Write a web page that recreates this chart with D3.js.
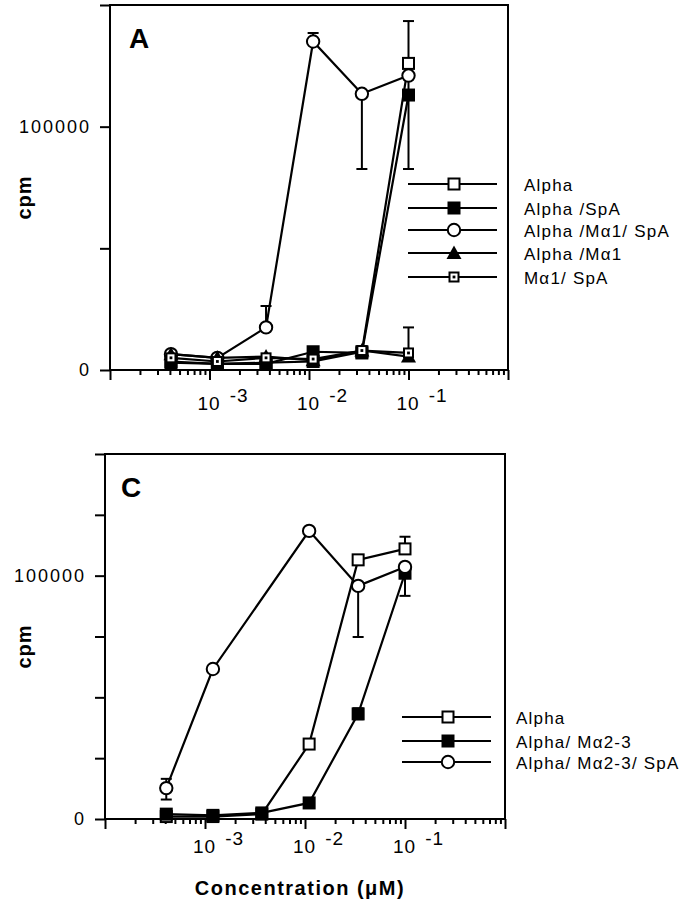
<!DOCTYPE html>
<html>
<head>
<meta charset="utf-8">
<script src="https://cdn.jsdelivr.net/npm/d3@7"></script>
<style>
  body { margin: 0; background: #fff; }
  text { font-family: "Liberation Sans", Arial, Helvetica, sans-serif; fill: #000; }
</style>
</head>
<body>
<svg id="chart" width="689" height="900"></svg>
<script>
// concentrations (uM), 3-fold dilutions
const conc = [0.00041, 0.0012, 0.0037, 0.011, 0.034, 0.1];

// panel A values (cpm)
const alphaA      = [3000, 2500, 3000, 3500, 7500, 126000];
const alphaSpA    = [3500, 2500, 2500, 7500, 7000, 113000];
const alphaMa1SpA = [6500, 5000, 17500, 135000, 113500, 121000];
const alphaMa1    = [6500, 5000, 5500, 4000, 8000, 5500];
const ma1SpA      = [5000, 3500, 5000, 4500, 8000, 7000];

// panel C values (cpm), null = no point
const alphaC       = [1000, 1000, 2000, 30800, 106500, 111000];
const alphaMa23    = [2000, 1500, 2500, 6600, 43200, 101000];
const alphaMa23SpA = [12700, 61650, null, 118400, 95800, 103600];

// error bars: index, low end, high end
const errAlphaA      = [{i: 5, lo: 82600, hi: 143400}];
const errAlphaMa1SpA = [{i: 2, hi: 26300}, {i: 3, hi: 138500}, {i: 4, lo: 82600}];
const errMa1SpA      = [{i: 5, hi: 17500}];
const errAlphaC       = [{i: 5, hi: 116000}];
const errAlphaMa23    = [{i: 4, lo: 41000, hi: 45500}];
const errAlphaMa23SpA = [{i: 0, lo: 8000, hi: 16500}, {i: 4, lo: 74800}, {i: 5, lo: 91700}];

const xTickExps = [-3, -2, -1];
const yTicksA = [0, 50000, 100000, 150000];
const yTicksC = [0, 25000, 50000, 75000, 100000, 125000, 150000];
const yLabels = [0, 100000];

const svg = d3.select("#chart");

const drawMarker = (g, type) => {
  if (type == "square") {
    g.append("rect").attr("x", -5.5).attr("y", -5.5).attr("width", 11).attr("height", 11)
      .attr("fill", "#fff").attr("stroke", "#000").attr("stroke-width", 2);
  } else if (type == "fsquare") {
    g.append("rect").attr("x", -6.5).attr("y", -6.5).attr("width", 13).attr("height", 13)
      .attr("fill", "#000");
  } else if (type == "circle") {
    g.append("circle").attr("r", 6.2)
      .attr("fill", "#fff").attr("stroke", "#000").attr("stroke-width", 2);
  } else if (type == "triangle") {
    g.append("path").attr("d", "M0,-7.5L7.5,6L-7.5,6Z").attr("fill", "#000");
  } else if (type == "dsquare") {
    g.append("rect").attr("x", -4.5).attr("y", -4.5).attr("width", 9).attr("height", 9)
      .attr("fill", "#fff").attr("stroke", "#000").attr("stroke-width", 2);
    g.append("rect").attr("x", -1.4).attr("y", -1.4).attr("width", 2.8).attr("height", 2.8)
      .attr("fill", "#000");
  }
}

const drawPanel = (p) => {
  const g = svg.append("g");
  const x = d3.scaleLog().domain([1e-4, 1]).range([p.left, p.right]);
  const y = d3.scaleLinear().domain([0, 150000]).range([p.bottom, p.top]);

  // y axis ticks
  g.append("g")
    .attr("transform", `translate(${p.left},0)`)
    .call(d3.axisLeft(y).tickValues(p.yTicks).tickSize(10).tickPadding(9)
      .tickFormat(d => yLabels.includes(d) ? d : ""))
    .call(a => a.select(".domain").remove())
    .call(a => a.selectAll("line").attr("stroke-width", 2))
    .call(a => a.selectAll("text").attr("font-size", 18).style("letter-spacing", "2px"));

  // x axis major and minor ticks
  const major = [1e-4, 1e-3, 1e-2, 1e-1, 1];
  const minor = x.ticks().filter(d => !major.some(m => Math.abs(d / m - 1) < 1e-6));
  g.append("g")
    .attr("transform", `translate(0,${p.bottom})`)
    .call(d3.axisBottom(x).tickValues(major).tickSize(10).tickFormat(""))
    .call(a => a.select(".domain").remove())
    .call(a => a.selectAll("line").attr("stroke-width", 2));
  g.append("g")
    .attr("transform", `translate(0,${p.bottom})`)
    .call(d3.axisBottom(x).tickValues(minor).tickSize(5).tickFormat(""))
    .call(a => a.select(".domain").remove())
    .call(a => a.selectAll("line").attr("stroke-width", 2));

  // 10^n labels
  const lab = g.selectAll(".xlab").data(xTickExps).enter().append("text")
    .attr("class", "xlab")
    .attr("x", d => x(Math.pow(10, d)) - 12)
    .attr("y", p.bottom + p.labOff)
    .attr("font-size", 19)
    .style("letter-spacing", "1px");
  lab.append("tspan").text("10");
  lab.append("tspan").attr("dx", 9).attr("dy", -8).text(d => "-" + Math.abs(d));

  // frame
  g.append("rect")
    .attr("x", p.left).attr("y", p.top)
    .attr("width", p.right - p.left).attr("height", p.bottom - p.top)
    .attr("fill", "none").attr("stroke", "#000").attr("stroke-width", 2);

  // panel letter
  g.append("text").attr("x", p.left + p.letterDx).attr("y", p.top + 43)
    .attr("font-size", 28).attr("font-weight", "bold").text(p.letter);

  // y title
  g.append("text")
    .attr("transform", `translate(31,${(p.top + p.bottom) / 2 + 10}) rotate(-90)`)
    .attr("text-anchor", "middle")
    .attr("font-size", 20).attr("font-weight", "bold")
    .style("letter-spacing", "1px")
    .text("cpm");

  const line = d3.line()
    .x(d => x(d[0])).y(d => y(d[1]));

  // lines
  p.series.forEach(s => {
    const pts = conc.map((c, i) => [c, s.values[i]]).filter(d => d[1] != null);
    g.append("path").datum(pts)
      .attr("d", line)
      .attr("fill", "none").attr("stroke", "#000").attr("stroke-width", 2.2);
  });

  // error bars
  p.series.forEach(s => {
    (s.err || []).forEach(e => {
      const cx = x(conc[e.i]);
      const v = s.values[e.i];
      [e.lo, e.hi].forEach(end => {
        if (end == undefined) return;
        g.append("line").attr("x1", cx).attr("x2", cx)
          .attr("y1", y(v)).attr("y2", y(end))
          .attr("stroke", "#000").attr("stroke-width", 2);
        g.append("line").attr("x1", cx - 5.5).attr("x2", cx + 5.5)
          .attr("y1", y(end)).attr("y2", y(end))
          .attr("stroke", "#000").attr("stroke-width", 2);
      });
    });
  });

  // markers
  p.series.forEach(s => {
    conc.forEach((c, i) => {
      if (s.values[i] == null) return;
      const m = g.append("g").attr("transform", `translate(${x(c)},${y(s.values[i])})`);
      drawMarker(m, s.marker);
    });
  });

  // legend
  p.series.forEach((s, k) => {
    const ly = p.legendY[k];
    g.append("line")
      .attr("x1", p.legendX).attr("x2", p.legendX + 89)
      .attr("y1", ly).attr("y2", ly)
      .attr("stroke", "#000").attr("stroke-width", 2);
    drawMarker(g.append("g").attr("transform", `translate(${p.legendX + 46},${ly})`), s.marker);
    g.append("text")
      .attr("x", p.legendTextX).attr("y", ly + 7)
      .attr("font-size", 17)
      .style("letter-spacing", "1.2px")
      .text(s.name);
  });
}

drawPanel({
  letter: "A", letterDx: 19,
  left: 110, right: 508, top: 5, bottom: 370, labOff: 40,
  yTicks: yTicksA,
  legendX: 408, legendTextX: 524,
  legendY: [184, 208, 230, 253, 277],
  series: [
    {name: "Alpha", values: alphaA, marker: "square", err: errAlphaA},
    {name: "Alpha /SpA", values: alphaSpA, marker: "fsquare"},
    {name: "Alpha /M\u03b11/ SpA", values: alphaMa1SpA, marker: "circle", err: errAlphaMa1SpA},
    {name: "Alpha /M\u03b11", values: alphaMa1, marker: "triangle"},
    {name: "M\u03b11/ SpA", values: ma1SpA, marker: "dsquare", err: errMa1SpA}
  ]
});

drawPanel({
  letter: "C", letterDx: 16,
  left: 105, right: 505, top: 454, bottom: 819, labOff: 34,
  yTicks: yTicksC,
  legendX: 402, legendTextX: 516,
  legendY: [717, 741, 762],
  series: [
    {name: "Alpha", values: alphaC, marker: "square", err: errAlphaC},
    {name: "Alpha/ M\u03b12-3", values: alphaMa23, marker: "fsquare", err: errAlphaMa23},
    {name: "Alpha/ M\u03b12-3/ SpA", values: alphaMa23SpA, marker: "circle", err: errAlphaMa23SpA}
  ]
});

svg.append("text")
  .attr("x", 300).attr("y", 895)
  .attr("text-anchor", "middle")
  .attr("font-size", 20).attr("font-weight", "bold")
  .style("letter-spacing", "1.5px")
  .text("Concentration (\u03bcM)");
</script>
</body>
</html>
